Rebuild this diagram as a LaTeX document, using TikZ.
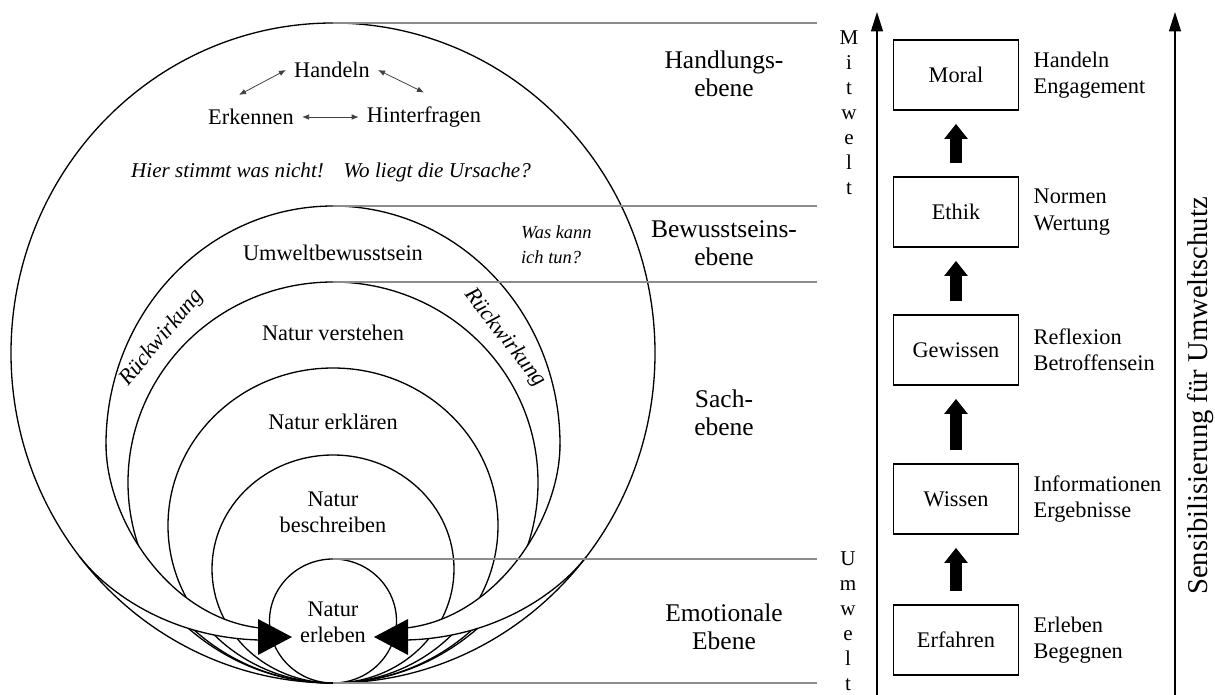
\documentclass[tikz,border=0pt]{standalone}
\usepackage{fontspec}
\setmainfont{Liberation Serif}
\usetikzlibrary{arrows.meta,positioning}
\def\textsz{\fontsize{12.7}{15}\selectfont}
\def\levelsz{\fontsize{14.5}{16}\selectfont}
\def\lettersz{\fontsize{12}{14.2}\selectfont}

\tikzset{
	ring/.style={line width=0.75pt},
	levelline/.style={line width=0.85pt, color=black!45},
	ringtext/.style={font=\textsz, align=center, inner sep=1pt},
	cycletext/.style={font=\textsz, inner sep=4.5pt},
	stage/.style={draw, line width=0.9pt, minimum width=25mm, minimum height=14mm, font=\textsz},
	stagenote/.style={font=\textsz, align=left, inner sep=0pt},
	levelname/.style={font=\levelsz, align=center},
	vletters/.style={font=\lettersz, align=center, inner sep=0pt},
	smallarrow/.style={{Latex[length=4pt,width=3.2pt]}-{Latex[length=4pt,width=3.2pt]}, line width=0.45pt, black!75},
	blockarrow/.style={-{Triangle[length=8.5pt,width=13.5pt,line width=0pt]}, line width=6.3pt, shorten <=7.5pt, shorten >=7.5pt},
	axisarrow/.style={-{Triangle[length=11pt,width=7pt,line width=0pt]}, line width=0.9pt},
}

\begin{document}
\begin{tikzpicture}[x=0.2mm,y=-0.2mm]
	%%%%% START %%%%%
	\useasboundingbox (0,0) rectangle (1215,695);
	
	\draw[ring] (333,444.5) ellipse [x radius=45.4mm, y radius=47.7mm];
	\draw[ring] (333,482.5) ellipse [x radius=41mm, y radius=40.1mm];
	\draw[ring] (333,525.5) ellipse [x radius=33mm, y radius=31.5mm];
	\draw[ring] (333,569) ellipse [x radius=24.2mm, y radius=22.8mm];
	\draw[ring] (333,621) ellipse [x radius=12.7mm, y radius=12.4mm];
	
	% Rueckwirkung, links
	\fill[white] (106,444.5) .. controls (106,520) and (170,618) .. (260,628) -- (260,640) .. controls (170,638) and (107,592) .. (80,557) -- cycle;
	\draw[ring] (106,444.5) .. controls (106,520) and (170,618) .. (260,628);
	\draw[ring] (80,557) .. controls (107,592) and (170,638) .. (260,640);
	\fill (258,619) -- (258,655) -- (292,637) -- cycle;
	
	% Rueckwirkung, rechts
	\fill[white] (560,444.5) .. controls (560,520) and (496,618) .. (406,628) -- (406,640) .. controls (496,638) and (559,592) .. (586,557) -- cycle;
	\draw[ring] (560,444.5) .. controls (560,520) and (496,618) .. (406,628);
	\draw[ring] (586,557) .. controls (559,592) and (496,638) .. (406,640);
	\fill (408,619) -- (408,655) -- (374,637) -- cycle;
	
	\draw[ring] (333,353) ellipse [x radius=64.4mm, y radius=66mm];
	
	\draw[levelline] (333,23) -- (817,23);
	\draw[levelline] (333,206) -- (817,206);
	\draw[levelline] (333,282) -- (817,282);
	\draw[levelline] (333,559) -- (817,559);
	\draw[levelline] (333,683) -- (817,683);
	
	\node[cycletext] (handeln) at (332,70) {Handeln};
	\node[cycletext] (erkennen) at (251,117) {Erkennen};
	\node[cycletext] (hinterfragen) at (424,117) {Hinterfragen};
	\draw[smallarrow] (erkennen) -- (hinterfragen);
	\draw[smallarrow] (handeln.west) -- ([shift={(-12,-6)}]erkennen.north);
	\draw[smallarrow] (handeln.east) -- ([shift={(0,-6)}]hinterfragen.north);
	
	\node[ringtext, font=\fontsize{12}{14}\selectfont\itshape] (frage) at (331,172) {Hier stimmt was nicht!\hspace{0.6em} Wo liegt die Ursache?};
	\node[ringtext, font=\fontsize{10.5}{14}\selectfont\itshape, align=left, anchor=west] (tun) at (519,245) {Was kann\\ich tun?};
	
	\node[ringtext] (bewusst) at (333,253) {Umweltbewusstsein};
	\node[ringtext] (verstehen) at (333,333) {Natur verstehen};
	\node[ringtext] (erklaeren) at (333,422) {Natur erklären};
	\node[ringtext] (beschreiben) at (333,512) {Natur\\beschreiben};
	\node[ringtext] (erleben) at (333,622) {Natur\\erleben};
	\node[ringtext, font=\textsz\itshape, rotate=50] (rueckl) at (162,338) {Rückwirkung};
	\node[ringtext, font=\textsz\itshape, rotate=-52] (rueckr) at (505,338) {Rückwirkung};
	
	\node[levelname] (handlung) at (724,74) {Handlungs-\\ebene};
	\node[levelname] (bewusstsein) at (724,243) {Bewusstseins-\\ebene};
	\node[levelname] (sach) at (724,413) {Sach-\\ebene};
	\node[levelname] (emotion) at (724,627) {Emotionale\\Ebene};
	
	\coordinate (mitweltfoot) at (877,695);
	\coordinate (mitwelttop) at (877,12);
	\draw[axisarrow] (mitweltfoot) -- (mitwelttop);
	\node[vletters] (mitwelt) at (849,113) {M\\i\\t\\w\\e\\l\\t};
	\node[vletters] (umwelt) at (848,621) {U\\m\\w\\e\\l\\t};
	
	\node[stage] (moral) at (956,75) {Moral};
	\node[stage] (ethik) at (956,212) {Ethik};
	\node[stage] (gewissen) at (956,350) {Gewissen};
	\node[stage] (wissen) at (956,499) {Wissen};
	\node[stage] (erfahren) at (956,640) {Erfahren};
	
	\draw[blockarrow] (erfahren) -- (wissen);
	\draw[blockarrow] (wissen) -- (gewissen);
	\draw[blockarrow] (gewissen) -- (ethik);
	\draw[blockarrow] (ethik) -- (moral);
	
	\node[stagenote, right=2.8mm of moral] (moralnote) {Handeln\\Engagement};
	\node[stagenote, right=2.8mm of ethik] (ethiknote) {Normen\\Wertung};
	\node[stagenote, right=2.8mm of gewissen] (gewissennote) {Reflexion\\Betroffensein};
	\node[stagenote, right=2.8mm of wissen] (wissennote) {Informationen\\Ergebnisse};
	\node[stagenote, right=2.8mm of erfahren] (erfahrennote) {Erleben\\Begegnen};
	
	\coordinate (sensfoot) at (1175,695);
	\coordinate (senstop) at (1175,12);
	\draw[axisarrow] (sensfoot) -- (senstop);
	\node[font=\fontsize{16.3}{19}\selectfont, rotate=90, inner sep=0pt] (sensib) at (1200,396) {Sensibilisierung für Umweltschutz};
	
	%%%%% END %%%%%
\end{tikzpicture}
\end{document}
